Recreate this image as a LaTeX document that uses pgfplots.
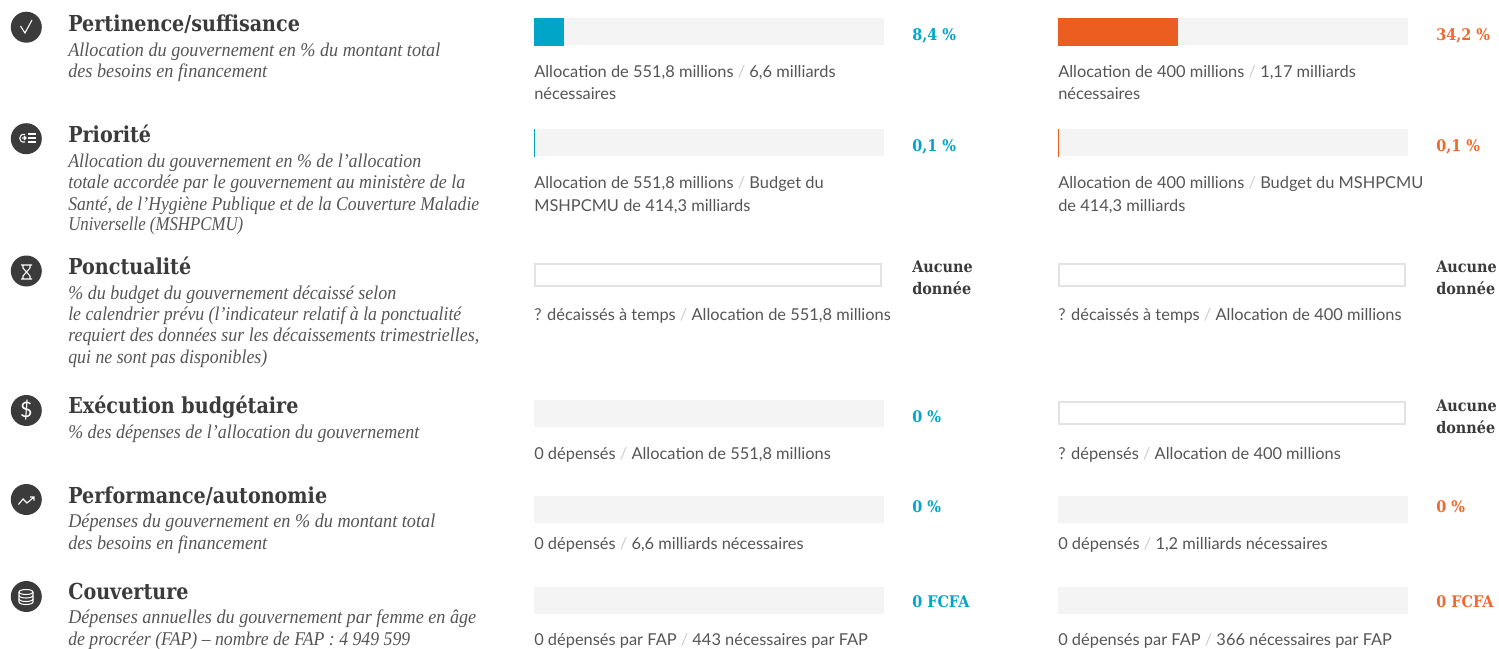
\documentclass[border=0pt]{standalone}
\usepackage{pgfplots}
\pgfplotsset{compat=1.18}
\usepackage{fontspec}
\setmainfont{Lato}
\newfontfamily\ttl[FakeStretch=0.87]{DejaVu Serif}
\newfontfamily\vlf[FakeStretch=0.9]{DejaVu Serif}
\newfontfamily\ital{Liberation Serif}
\definecolor{blu}{HTML}{00A5C8}
\definecolor{org}{HTML}{EB5E20}
\definecolor{orgt}{HTML}{F0682C}
\definecolor{trk}{HTML}{F4F4F4}
\definecolor{brd}{HTML}{E2E2E2}
\definecolor{dk}{HTML}{3B3B3B}
\definecolor{txt}{HTML}{555555}
\definecolor{sl}{HTML}{CCCCCC}
% \barpanel{x}{y}{value}{colour}
\newcommand\barpanel[4]{%
\begin{axis}[at={({#1*0.75pt},{-#2*0.75pt})},anchor=north west,scale only axis,width=262.5pt,height=20.25pt,
  hide axis,xmin=0,xmax=100,ymin=-0.5,ymax=0.5,clip=false]
  \addplot[xbar,bar width=20.25pt,bar shift=0pt,fill=trk,draw=none] coordinates {(100,0)};
  \addplot[xbar,bar width=20.25pt,bar shift=0pt,fill=#4,draw=#4,line width=0.6pt] coordinates {(#3,0)};
\end{axis}}
% \zeropanel{x}{y}
\newcommand\zeropanel[2]{%
\begin{axis}[at={({#1*0.75pt},{-#2*0.75pt})},anchor=north west,scale only axis,width=262.5pt,height=20.25pt,
  hide axis,xmin=0,xmax=100,ymin=-0.5,ymax=0.5,clip=false]
  \addplot[xbar,bar width=20.25pt,bar shift=0pt,fill=trk,draw=none] coordinates {(100,0)};
\end{axis}}
% \nodata{x}{y}
\newcommand\nodata[2]{%
\begin{axis}[at={({(#1+1)*0.75pt},{-(#2+1)*0.75pt})},anchor=north west,scale only axis,width=259.5pt,height=16.5pt,
  hide axis,xmin=0,xmax=100,ymin=-0.5,ymax=0.5,clip=false]
  \addplot[xbar,bar width=16.5pt,bar shift=0pt,fill=white,draw=brd,line width=1.5pt] coordinates {(100,0)};
\end{axis}}
\newcommand\T[2]{\node[anchor=base west,inner sep=0pt,text=dk,font=\ttl\bfseries\fontsize{16.5pt}{18pt}\selectfont] at (68,#1) {#2};}
% \Sb{baseline}{right end}{text}
\newcommand\Sb[3]{\node[anchor=base west,inner sep=0pt,text=txt,font=\ital\itshape\fontsize{14.6pt}{16pt}\selectfont] at (68,#1) {\resizebox{\dimexpr(#2pt-68pt)*3/4\relax}{\height}{#3}};}
\newcommand\Lb[3]{\node[anchor=base west,inner sep=0pt,text=txt,font=\fontsize{12.3pt}{14pt}\selectfont] at (#1,#2) {#3};}
\newcommand\Vl[4]{\node[anchor=base west,inner sep=0pt,text=#4,font=\vlf\bfseries\fontsize{12pt}{14pt}\selectfont] at (#1,#2) {#3};}
\newcommand\Sl{\textcolor{sl}{/}}
\begin{document}
\begin{tikzpicture}[x=0.75pt,y=-0.75pt]
\path[use as bounding box] (0,0) rectangle (1499,649);
% icons
\foreach \yy in {27.2,138.7,271,410.5,499.5,596.5} \fill[dk] (26.3,\yy) circle (15.5);
\begin{scope}[white,line width=0.8pt]
\draw (20.5,26) -- (25,33) -- (32,20);
\draw (28,134) -- (36,134) (28,138) -- (36,138) (28,142) -- (36,142);
\draw (25,134.5) .. controls (18,133) and (18,143.5) .. (25,142);
\draw[line width=1pt] (26,138) -- (22,138) (24,136) -- (26,138) -- (24,140);
\draw (21,265) -- (32,265) (21,279) -- (32,279) (23,265) -- (23,268) -- (30,276) -- (30,279) (30,265) -- (30,268) -- (23,276) -- (23,279);
\node[inner sep=0pt,text=white,font=\fontsize{16pt}{16pt}\selectfont] at (26.3,410.5) {\$};
\draw (18.5,504.5) -- (23,499) -- (27,503) -- (34,497) (30,497) -- (34,497) -- (34,500.5);
\draw (26,592) ellipse (7 and 2.5);
\draw (19,592) -- (19,602) arc (180:0:7 and 2.5) -- (33,592);
\draw (19,595.5) arc (180:0:7 and 2.5) (19,599) arc (180:0:7 and 2.5);
\end{scope}
% panels
\barpanel{534}{18}{8.4}{blu}
\barpanel{1058}{18}{34.2}{org}
\barpanel{534}{129}{0.1}{blu}
\barpanel{1058}{129}{0.1}{org}
\nodata{534}{263}
\nodata{1058}{263}
\zeropanel{534}{400}
\nodata{1058}{401}
\zeropanel{534}{496}
\zeropanel{1058}{496}
\zeropanel{534}{587}
\zeropanel{1058}{587}
% titles
\T{32}{Pertinence/suffisance}
\T{143}{Priorité}
\T{274}{Ponctualité}
\T{413}{Exécution budgétaire}
\T{503}{Performance/autonomie}
\T{599}{Couverture}
% subtitles
\Sb{57}{440}{Allocation du gouvernement en \% du montant total}
\Sb{78}{267}{des besoins en financement}
\Sb{168}{421}{Allocation du gouvernement en \% de l’allocation}
\Sb{189}{465}{totale accordée par le gouvernement au ministère de la}
\Sb{210}{479}{Santé, de l’Hygiène Publique et de la Couverture Maladie}
\Sb{231}{243}{Universelle (MSHPCMU)}
\Sb{299}{396}{\% du budget du gouvernement décaissé selon}
\Sb{320}{461}{le calendrier prévu (l’indicateur relatif à la ponctualité}
\Sb{341}{479}{requiert des données sur les décaissements trimestrielles,}
\Sb{363}{267}{qui ne sont pas disponibles)}
\Sb{438}{419}{\% des dépenses de l’allocation du gouvernement}
\Sb{527}{435}{Dépenses du gouvernement en \% du montant total}
\Sb{549}{267}{des besoins en financement}
\Sb{623}{476}{Dépenses annuelles du gouvernement par femme en âge}
\Sb{645}{410}{de procréer (FAP) – nombre de FAP : 4 949 599}
% labels
\Lb{534}{78}{Allocation de 551,8 millions \Sl{} 6,6 milliards}
\Lb{534}{100}{nécessaires}
\Lb{1058}{78}{Allocation de 400 millions \Sl{} 1,17 milliards}
\Lb{1058}{100}{nécessaires}
\Lb{534}{189}{Allocation de 551,8 millions \Sl{} Budget du}
\Lb{534}{211}{MSHPCMU de 414,3 milliards}
\Lb{1058}{189}{Allocation de 400 millions \Sl{} Budget du MSHPCMU}
\Lb{1058}{211}{de 414,3 milliards}
\Lb{534}{320}{? décaissés à temps \Sl{} Allocation de 551,8 millions}
\Lb{1058}{320}{? décaissés à temps \Sl{} Allocation de 400 millions}
\Lb{534}{459}{0 dépensés \Sl{} Allocation de 551,8 millions}
\Lb{1058}{459}{? dépensés \Sl{} Allocation de 400 millions}
\Lb{534}{549}{0 dépensés \Sl{} 6,6 milliards nécessaires}
\Lb{1058}{549}{0 dépensés \Sl{} 1,2 milliards nécessaires}
\Lb{534}{645}{0 dépensés par FAP \Sl{} 443 nécessaires par FAP}
\Lb{1058}{645}{0 dépensés par FAP \Sl{} 366 nécessaires par FAP}
% values
\Vl{912}{41}{8,4 \%}{blu}
\Vl{1436}{41}{34,2 \%}{orgt}
\Vl{912}{152}{0,1 \%}{blu}
\Vl{1436}{152}{0,1 \%}{orgt}
\Vl{912}{272}{Aucune}{dk}
\Vl{912}{294}{donnée}{dk}
\Vl{1436}{272}{Aucune}{dk}
\Vl{1436}{294}{donnée}{dk}
\Vl{912}{422}{0 \%}{blu}
\Vl{1436}{411}{Aucune}{dk}
\Vl{1436}{433}{donnée}{dk}
\Vl{912}{512}{0 \%}{blu}
\Vl{1436}{512}{0 \%}{orgt}
\Vl{912}{607}{0 FCFA}{blu}
\Vl{1436}{607}{0 FCFA}{orgt}
\end{tikzpicture}
\end{document}
